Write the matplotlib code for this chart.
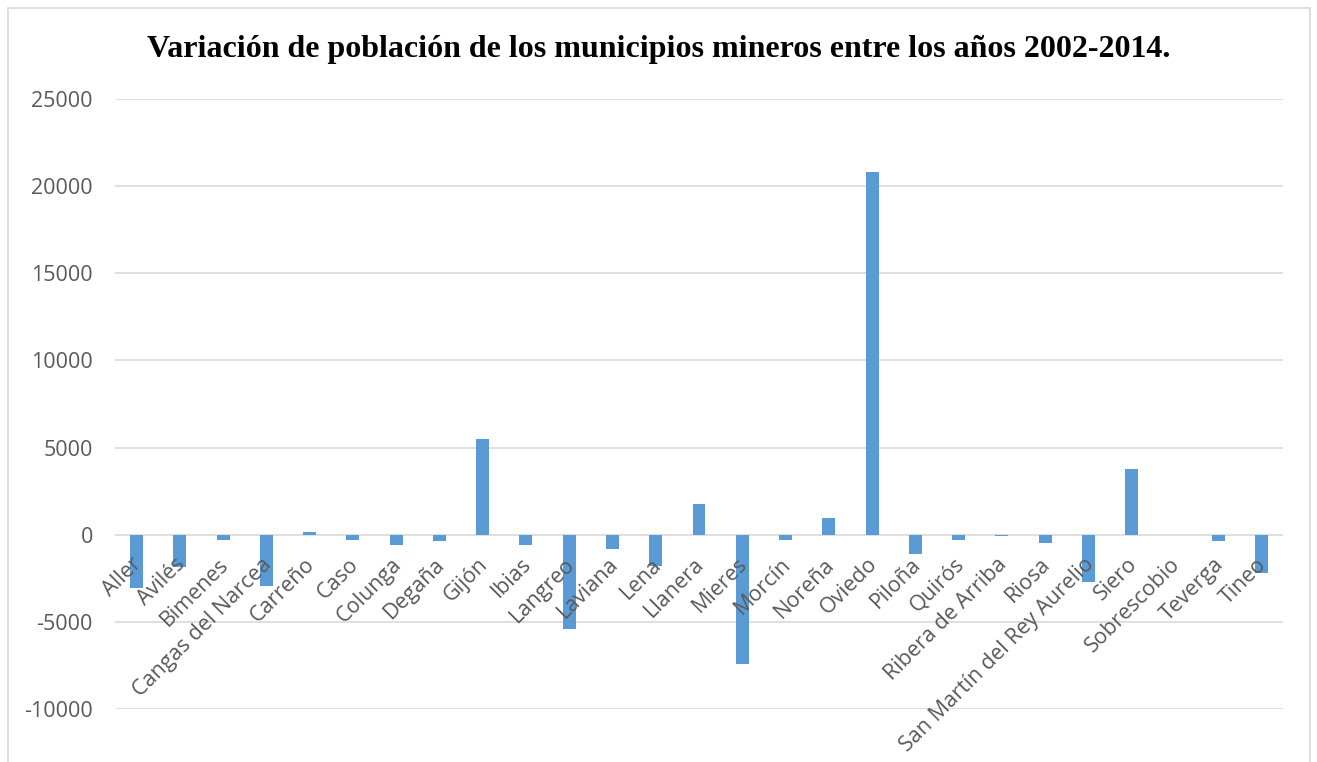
import matplotlib
matplotlib.use("Agg")
import matplotlib.pyplot as plt
from matplotlib.patches import Rectangle

_BAR = "#5b9bd5"
_GRID = "#d9d9d9"
_TICK_TEXT = "#595959"

municipios = [
    "Aller", "Avilés", "Bimenes", "Cangas del Narcea", "Carreño", "Caso",
    "Colunga", "Degaña", "Gijón", "Ibias", "Langreo", "Laviana", "Lena",
    "Llanera", "Mieres", "Morcín", "Noreña", "Oviedo", "Piloña", "Quirós",
    "Ribera de Arriba", "Riosa", "San Martín del Rey Aurelio", "Siero",
    "Sobrescobio", "Teverga", "Tineo",
]
variacion = [
    -3050, -1860, -300, -2930, 150, -300,
    -600, -380, 5500, -600, -5400, -840, -1780,
    1740, -7440, -310, 955, 20820, -1130, -310,
    -50, -460, -2740, 3790,
    0, -380, -2170,
]
y_ticks = [-10000, -5000, 0, 5000, 10000, 15000, 20000, 25000]
titulo = "Variación de población de los municipios mineros entre los años 2002-2014."

W, H = 1317, 762
fig = plt.figure(figsize=(W / 100, H / 100), dpi=100, facecolor="white")

# chart border (bottom edge is cut off in the reference)
fig.patches.append(Rectangle((8 / W, -0.2), (1310 - 8) / W, 1.2 - 8 / H,
                             transform=fig.transFigure, fill=False,
                             edgecolor=_GRID, linewidth=1.2))

ax = fig.add_axes([115 / W, 1 - 709 / H, (1283 - 115) / W, (709 - 99) / H])
x = list(range(len(municipios)))
ax.bar(x, variacion, width=0.3, color=_BAR, zorder=3)

ax.set_xlim(-0.5, len(municipios) - 0.5)
ax.set_ylim(y_ticks[0], y_ticks[-1])
ax.set_yticks(y_ticks)
ax.set_yticklabels([str(t) for t in y_ticks], fontsize=15.5,
                   color=_TICK_TEXT, family="Open Sans")
ax.yaxis.grid(True, color=_GRID, linewidth=1.2, zorder=0)
ax.tick_params(axis="y", length=0, pad=16)

for side in ("top", "right", "left", "bottom"):
    ax.spines[side].set_visible(False)

ax.set_xticks([])
for i, name in enumerate(municipios):
    ax.text(i - 0.12, -1100, name, rotation=45, rotation_mode="anchor",
            ha="right", va="top", fontsize=15.5, color=_TICK_TEXT,
            family="Open Sans", zorder=4)

fig.text(0.5, 1 - 50 / H, titulo, ha="center", va="center",
         fontsize=23, fontweight="bold", family="Liberation Serif")

fig.savefig("out.png", dpi=100)
